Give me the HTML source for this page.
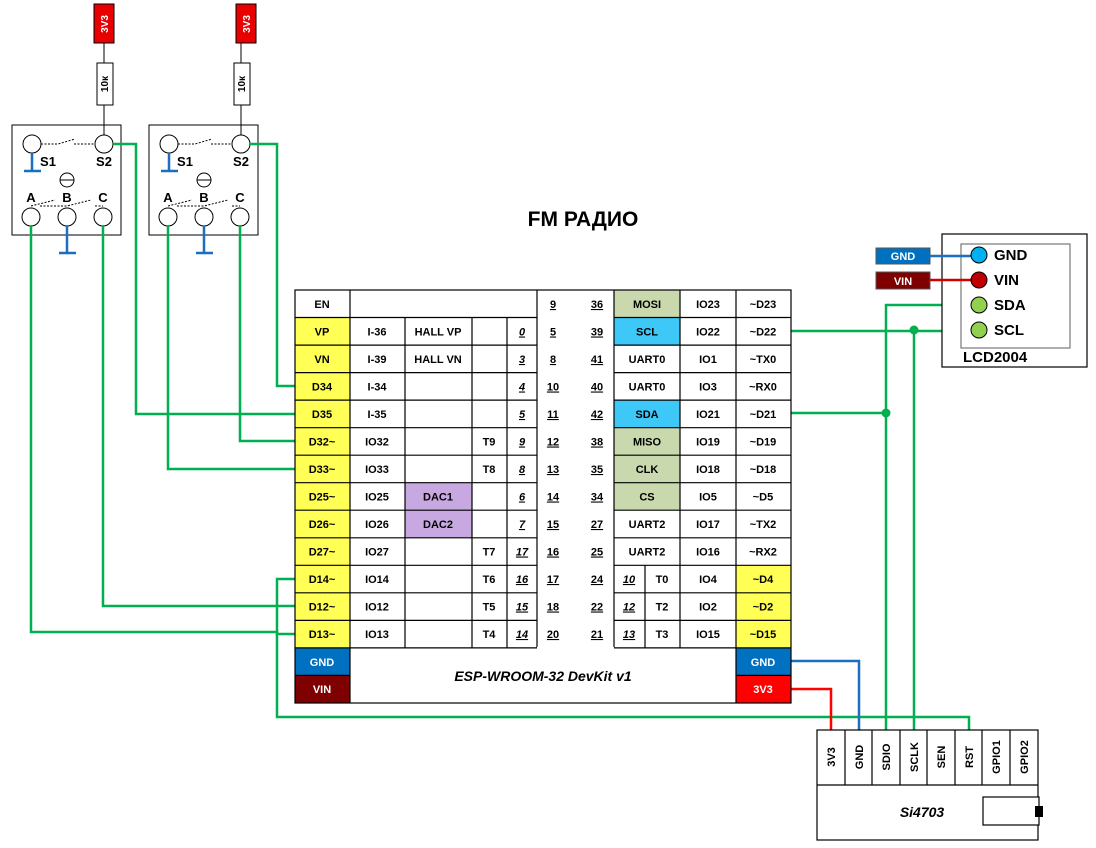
<!DOCTYPE html>
<html><head><meta charset="utf-8"><style>
html,body{margin:0;padding:0;background:#fff;}
svg{display:block;font-family:"Liberation Sans",Arial,sans-serif;}
.t{font-size:11px;font-weight:bold;text-anchor:middle;fill:#000;}
.w{fill:#fff;}
.u{text-decoration:underline;}
.i{font-style:italic;}
.g{stroke:#00b050;stroke-width:2.5;fill:none;}
</style></head><body>
<svg width="1096" height="848" viewBox="0 0 1096 848" xmlns="http://www.w3.org/2000/svg">
<rect width="1096" height="848" fill="#fff"/>
<text x="583" y="226" style="font-size:21px;font-weight:bold;text-anchor:middle">FM РАДИО</text>

<!-- switch 1 -->
<g>
<rect x="94" y="4" width="20" height="39" fill="#e80000" stroke="#000"/>
<text transform="translate(108,24) rotate(-90)" class="t w" style="font-size:10px">3V3</text>
<line x1="104" y1="43" x2="104" y2="63" stroke="#000"/>
<rect x="97" y="63" width="16" height="42" fill="#fff" stroke="#000"/>
<text transform="translate(108,84) rotate(-90)" class="t" style="font-size:10px">10к</text>
<line x1="104" y1="105" x2="104" y2="135" stroke="#000"/>
<rect x="12" y="125" width="109" height="110" fill="none" stroke="#000"/>
<circle cx="32" cy="144" r="9" fill="#fff" stroke="#000"/>
<circle cx="104" cy="144" r="9" fill="#fff" stroke="#000"/>
<path d="M41 144H58L75 139M74 144H95" stroke="#000" stroke-dasharray="2,1.5" fill="none"/>
<path d="M32 153V170M24 171H41" stroke="#1a6fc0" stroke-width="2.5" fill="none"/>
<text x="48" y="166" class="t" style="font-size:13px">S1</text>
<text x="104" y="166" class="t" style="font-size:13px">S2</text>
<circle cx="67" cy="180" r="7" fill="#fff" stroke="#000"/><line x1="60" y1="180" x2="74" y2="180" stroke="#000"/>
<text x="31" y="202" class="t" style="font-size:13px">A</text>
<text x="67" y="202" class="t" style="font-size:13px">B</text>
<text x="103" y="202" class="t" style="font-size:13px">C</text>
<path d="M31 206L55 200M40 206H67L91 200M95 206H103" stroke="#000" stroke-dasharray="2,1.5" fill="none"/>
<circle cx="31" cy="217" r="9" fill="#fff" stroke="#000"/>
<circle cx="67" cy="217" r="9" fill="#fff" stroke="#000"/>
<circle cx="103" cy="217" r="9" fill="#fff" stroke="#000"/>
<path d="M67 226V253M59 253H76" stroke="#1a6fc0" stroke-width="2.5" fill="none"/>
</g>
<!-- switch 2 -->
<g transform="translate(137,0)">
<rect x="99" y="4" width="20" height="39" fill="#e80000" stroke="#000"/>
<text transform="translate(113,24) rotate(-90)" class="t w" style="font-size:10px">3V3</text>
<line x1="104" y1="43" x2="104" y2="63" stroke="#000"/>
<rect x="97" y="63" width="16" height="42" fill="#fff" stroke="#000"/>
<text transform="translate(108,84) rotate(-90)" class="t" style="font-size:10px">10к</text>
<line x1="104" y1="105" x2="104" y2="135" stroke="#000"/>
<rect x="12" y="125" width="109" height="110" fill="none" stroke="#000"/>
<circle cx="32" cy="144" r="9" fill="#fff" stroke="#000"/>
<circle cx="104" cy="144" r="9" fill="#fff" stroke="#000"/>
<path d="M41 144H58L75 139M74 144H95" stroke="#000" stroke-dasharray="2,1.5" fill="none"/>
<path d="M32 153V170M24 171H41" stroke="#1a6fc0" stroke-width="2.5" fill="none"/>
<text x="48" y="166" class="t" style="font-size:13px">S1</text>
<text x="104" y="166" class="t" style="font-size:13px">S2</text>
<circle cx="67" cy="180" r="7" fill="#fff" stroke="#000"/><line x1="60" y1="180" x2="74" y2="180" stroke="#000"/>
<text x="31" y="202" class="t" style="font-size:13px">A</text>
<text x="67" y="202" class="t" style="font-size:13px">B</text>
<text x="103" y="202" class="t" style="font-size:13px">C</text>
<path d="M31 206L55 200M40 206H67L91 200M95 206H103" stroke="#000" stroke-dasharray="2,1.5" fill="none"/>
<circle cx="31" cy="217" r="9" fill="#fff" stroke="#000"/>
<circle cx="67" cy="217" r="9" fill="#fff" stroke="#000"/>
<circle cx="103" cy="217" r="9" fill="#fff" stroke="#000"/>
<path d="M67 226V253M59 253H76" stroke="#1a6fc0" stroke-width="2.5" fill="none"/>
</g>

<!-- green wires -->
<path class="g" d="M113 144H136V414H295"/>
<path class="g" d="M250 144H277V386H295"/>
<path class="g" d="M168 226V469H295"/>
<path class="g" d="M240 226V441H295"/>
<path class="g" d="M103 226V606H295"/>
<path class="g" d="M31 226V632H277V634H295"/>
<path class="g" d="M295 579H277V717H969V740"/>
<path class="g" d="M791 331H971"/>
<path class="g" d="M791 413H886"/>
<path class="g" d="M886 740V305H971"/>
<path class="g" d="M914 740V330"/>
<circle cx="886" cy="413" r="4.5" fill="#00b050"/>
<circle cx="914" cy="330" r="4.5" fill="#00b050"/>
<path d="M791 661H859V740" stroke="#1a6fc0" stroke-width="2.5" fill="none"/>
<path d="M791 689H831V740" stroke="#ff0000" stroke-width="2.5" fill="none"/>

<!-- table fills -->
<g>
<rect x="295" y="317.5" width="55" height="330.4" fill="#ffff55"/>
<rect x="295" y="647.9" width="55" height="27.5" fill="#0070c0"/>
<rect x="295" y="675.4" width="55" height="27.6" fill="#7f0000"/>
<rect x="736" y="647.9" width="55" height="27.5" fill="#0070c0"/>
<rect x="736" y="675.4" width="55" height="27.6" fill="#ff0000"/>
<rect x="736" y="565.3" width="55" height="82.6" fill="#ffff55"/>
<rect x="405" y="482.7" width="67" height="55.1" fill="#c8a8e0"/>
<rect x="614" y="290" width="66" height="27.5" fill="#c9d9ad"/>
<rect x="614" y="317.5" width="66" height="27.6" fill="#3ec8f8"/>
<rect x="614" y="400.1" width="66" height="27.6" fill="#3ec8f8"/>
<rect x="614" y="427.7" width="66" height="82.5" fill="#c9d9ad"/>
</g>
<!-- table lines -->
<g stroke="#000" stroke-width="1.2" fill="none">
<rect x="295" y="290" width="496" height="413"/>
<path d="M295 317.5H537M295 345.1H537M295 372.6H537M295 400.1H537M295 427.7H537M295 455.2H537M295 482.7H537M295 510.2H537M295 537.8H537M295 565.3H537M295 592.8H537M295 620.4H537M295 647.9H537M295 675.4H350"/>
<path d="M614 317.5H791M614 345.1H791M614 372.6H791M614 400.1H791M614 427.7H791M614 455.2H791M614 482.7H791M614 510.2H791M614 537.8H791M614 565.3H791M614 592.8H791M614 620.4H791M614 647.9H791M736 675.4H791M537 647.9H614"/>
<path d="M350 290V703M405 317.5V647.9M472 317.5V647.9M507 317.5V647.9M537 290V647.9M614 290V647.9M680 290V647.9M736 290V703M645 565.3V647.9"/>
</g>
<line x1="537" y1="647.9" x2="614" y2="647.9" stroke="#fff" stroke-width="2"/>

<!-- table text -->
<g class="t">
<text x="322" y="308">EN</text><text x="553" y="308" class="u">9</text><text x="597" y="308" class="u">36</text><text x="647" y="308">MOSI</text><text x="708" y="308">IO23</text><text x="763" y="308">~D23</text>
<text x="322" y="335.5">VP</text><text x="377" y="335.5">I-36</text><text x="438" y="335.5">HALL VP</text><text x="522" y="335.5" class="u i">0</text><text x="553" y="335.5" class="u">5</text><text x="597" y="335.5" class="u">39</text><text x="647" y="335.5">SCL</text><text x="708" y="335.5">IO22</text><text x="763" y="335.5">~D22</text>
<text x="322" y="363">VN</text><text x="377" y="363">I-39</text><text x="438" y="363">HALL VN</text><text x="522" y="363" class="u i">3</text><text x="553" y="363" class="u">8</text><text x="597" y="363" class="u">41</text><text x="647" y="363">UART0</text><text x="708" y="363">IO1</text><text x="763" y="363">~TX0</text>
<text x="322" y="390.5">D34</text><text x="377" y="390.5">I-34</text><text x="522" y="390.5" class="u i">4</text><text x="553" y="390.5" class="u">10</text><text x="597" y="390.5" class="u">40</text><text x="647" y="390.5">UART0</text><text x="708" y="390.5">IO3</text><text x="763" y="390.5">~RX0</text>
<text x="322" y="418">D35</text><text x="377" y="418">I-35</text><text x="522" y="418" class="u i">5</text><text x="553" y="418" class="u">11</text><text x="597" y="418" class="u">42</text><text x="647" y="418">SDA</text><text x="708" y="418">IO21</text><text x="763" y="418">~D21</text>
<text x="322" y="445.5">D32~</text><text x="377" y="445.5">IO32</text><text x="489" y="445.5">T9</text><text x="522" y="445.5" class="u i">9</text><text x="553" y="445.5" class="u">12</text><text x="597" y="445.5" class="u">38</text><text x="647" y="445.5">MISO</text><text x="708" y="445.5">IO19</text><text x="763" y="445.5">~D19</text>
<text x="322" y="473">D33~</text><text x="377" y="473">IO33</text><text x="489" y="473">T8</text><text x="522" y="473" class="u i">8</text><text x="553" y="473" class="u">13</text><text x="597" y="473" class="u">35</text><text x="647" y="473">CLK</text><text x="708" y="473">IO18</text><text x="763" y="473">~D18</text>
<text x="322" y="500.5">D25~</text><text x="377" y="500.5">IO25</text><text x="438" y="500.5">DAC1</text><text x="522" y="500.5" class="u i">6</text><text x="553" y="500.5" class="u">14</text><text x="597" y="500.5" class="u">34</text><text x="647" y="500.5">CS</text><text x="708" y="500.5">IO5</text><text x="763" y="500.5">~D5</text>
<text x="322" y="528">D26~</text><text x="377" y="528">IO26</text><text x="438" y="528">DAC2</text><text x="522" y="528" class="u i">7</text><text x="553" y="528" class="u">15</text><text x="597" y="528" class="u">27</text><text x="647" y="528">UART2</text><text x="708" y="528">IO17</text><text x="763" y="528">~TX2</text>
<text x="322" y="555.5">D27~</text><text x="377" y="555.5">IO27</text><text x="489" y="555.5">T7</text><text x="522" y="555.5" class="u i">17</text><text x="553" y="555.5" class="u">16</text><text x="597" y="555.5" class="u">25</text><text x="647" y="555.5">UART2</text><text x="708" y="555.5">IO16</text><text x="763" y="555.5">~RX2</text>
<text x="322" y="583">D14~</text><text x="377" y="583">IO14</text><text x="489" y="583">T6</text><text x="522" y="583" class="u i">16</text><text x="553" y="583" class="u">17</text><text x="597" y="583" class="u">24</text><text x="629" y="583" class="u i">10</text><text x="662" y="583">T0</text><text x="708" y="583">IO4</text><text x="763" y="583">~D4</text>
<text x="322" y="610.5">D12~</text><text x="377" y="610.5">IO12</text><text x="489" y="610.5">T5</text><text x="522" y="610.5" class="u i">15</text><text x="553" y="610.5" class="u">18</text><text x="597" y="610.5" class="u">22</text><text x="629" y="610.5" class="u i">12</text><text x="662" y="610.5">T2</text><text x="708" y="610.5">IO2</text><text x="763" y="610.5">~D2</text>
<text x="322" y="638">D13~</text><text x="377" y="638">IO13</text><text x="489" y="638">T4</text><text x="522" y="638" class="u i">14</text><text x="553" y="638" class="u">20</text><text x="597" y="638" class="u">21</text><text x="629" y="638" class="u i">13</text><text x="662" y="638">T3</text><text x="708" y="638">IO15</text><text x="763" y="638">~D15</text>
<text x="322" y="666" class="w">GND</text><text x="763" y="666" class="w">GND</text>
<text x="322" y="693" class="w">VIN</text><text x="763" y="693" class="w">3V3</text>
<text x="543" y="681" class="i" style="font-size:14px">ESP-WROOM-32 DevKit v1</text>
</g>

<!-- LCD -->
<rect x="942" y="234" width="145" height="133" fill="#fff" stroke="#000" stroke-width="1.2"/>
<rect x="961" y="244" width="109" height="104" fill="none" stroke="#777" stroke-width="1.2"/>
<rect x="876" y="248" width="54" height="16" fill="#0070c0" stroke="#555"/>
<text x="903" y="260" class="t w">GND</text>
<rect x="876" y="272" width="54" height="17" fill="#7f0000" stroke="#555"/>
<text x="903" y="285" class="t w">VIN</text>
<path d="M930 256H971" stroke="#1a6fc0" stroke-width="2.5"/>
<path d="M930 280H971" stroke="#d00000" stroke-width="2.5"/>
<circle cx="979" cy="255" r="8" fill="#00b0f0" stroke="#000"/>
<circle cx="979" cy="280" r="8" fill="#c00000" stroke="#000"/>
<circle cx="979" cy="305" r="8" fill="#92d050" stroke="#000"/>
<circle cx="979" cy="330" r="8" fill="#92d050" stroke="#000"/>
<g style="font-size:15px;font-weight:bold">
<text x="994" y="260">GND</text><text x="994" y="285">VIN</text><text x="994" y="310">SDA</text><text x="994" y="335">SCL</text>
<text x="963" y="362">LCD2004</text>
</g>

<!-- Si4703 -->
<g stroke="#000" stroke-width="1.2" fill="none">
<rect x="817" y="730" width="221" height="110" fill="#fff"/>
<path d="M817 785H1038M845 730V785M872 730V785M900 730V785M927 730V785M955 730V785M982 730V785M1010 730V785"/>
<rect x="983" y="797" width="56" height="28" fill="#fff"/>
</g>
<rect x="1035" y="806" width="8" height="11" fill="#000"/>
<g class="t">
<text transform="translate(835,757) rotate(-90)">3V3</text>
<text transform="translate(863,757) rotate(-90)">GND</text>
<text transform="translate(890,757) rotate(-90)">SDIO</text>
<text transform="translate(918,757) rotate(-90)">SCLK</text>
<text transform="translate(945,757) rotate(-90)">SEN</text>
<text transform="translate(973,757) rotate(-90)">RST</text>
<text transform="translate(1000,757) rotate(-90)">GPIO1</text>
<text transform="translate(1028,757) rotate(-90)">GPIO2</text>
<text x="922" y="817" class="i" style="font-size:14px">Si4703</text>
</g>
</svg>
</body></html>
